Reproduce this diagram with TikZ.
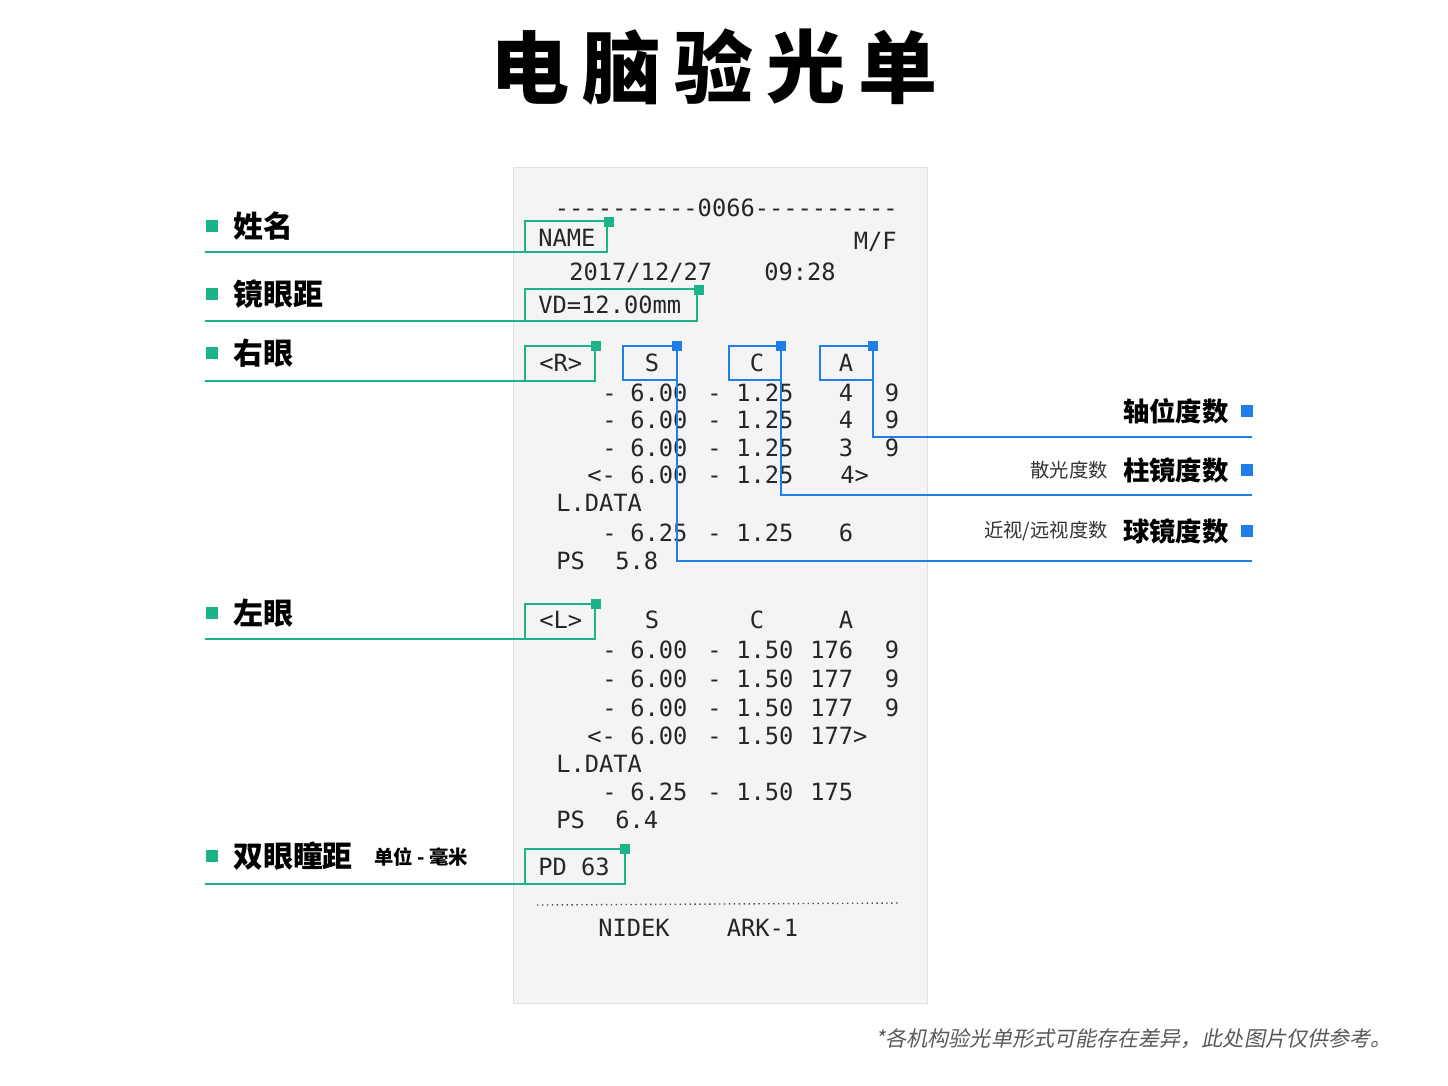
\documentclass[tikz,border=0pt]{standalone}
\usepackage{fontspec}
\newfontfamily\cjk{Noto Sans CJK SC}
\newfontfamily\cjkit{Noto Sans CJK SC}[FakeSlant=0.2]
\newfontfamily\receipt{DejaVu Sans Mono}
\definecolor{tagGreen}{HTML}{1DB38A}
\definecolor{tagBlue}{HTML}{1E7FE8}
\definecolor{paper}{HTML}{F4F4F5}
\tikzset{
  rtext/.style={anchor=base west, inner sep=0pt, font=\receipt\fontsize{13.5}{16}\selectfont, text=black!85},
  rmid/.style={rtext, anchor=base},
  gbox/.style={draw=tagGreen, line width=1.2pt},
  bbox/.style={draw=tagBlue, line width=1.2pt},
  lefttag/.style={anchor=west, inner sep=0pt, font=\cjk\bfseries\fontsize{17}{20}\selectfont},
  righttag/.style={anchor=east, inner sep=0pt, font=\cjk\bfseries\fontsize{15}{18}\selectfont},
  subtag/.style={anchor=east, inner sep=0pt, font=\cjk\fontsize{11}{13}\selectfont, text=black!80}
}
\newcommand{\gsq}[2]{\fill[tagGreen] (#1-5,#2-5) rectangle (#1+5,#2+5);}
\newcommand{\bsq}[2]{\fill[tagBlue] (#1-5,#2-5) rectangle (#1+5,#2+5);}
\begin{document}
\begin{tikzpicture}[x=0.02cm, y=-0.02cm]
\useasboundingbox[fill=white] (0,0) rectangle (1448,1086);

% title
\foreach \ch [count=\i from 0] in {电,脑,验,光,单}
  \node[font=\cjk\bfseries\fontsize{45}{50}\selectfont, inner sep=0pt] (title\i) at (530+\i*92,67) {\ch};

% receipt paper
\draw[fill=paper, draw=black!12] (513,167) rectangle (927,1003);

% header
\node[rtext, anchor=base east] (serial) at (898,216) {----------0066----------};
\node[rtext] (name) at (538,246) {NAME};
\node[rtext, anchor=base east] (sex) at (897,249) {M/F};
\node[rtext] (date) at (569,280) {2017/12/27};
\node[rtext] (time) at (764,280) {09:28};
\node[rtext] (vd) at (538,313) {VD=12.00mm};

% right eye
\node[rtext] (reye) at (539,371) {<R>};
\node[rmid] (rs) at (652,371) {S};
\node[rmid] (rc) at (757,371) {C};
\node[rmid] (ra) at (846,371) {A};
\foreach \y/\a in {401/4,428/4,456/3}{
  \node[rtext] at (602,\y) {-};
  \node[rtext] at (630,\y) {6.00};
  \node[rtext] at (707,\y) {-};
  \node[rtext] at (736,\y) {1.25};
  \node[rmid] at (846,\y) {\a};
  \node[rmid] at (892,\y) {9};
}
\node[rtext] at (587,483) {<-};
\node[rtext] at (630,483) {6.00};
\node[rtext] at (707,483) {-};
\node[rtext] at (736,483) {1.25};
\node[rtext] at (840,483) {4>};
\node[rtext] at (556,511) {L.DATA};
\node[rtext] at (602,541) {-};
\node[rtext] at (630,541) {6.25};
\node[rtext] at (707,541) {-};
\node[rtext] at (736,541) {1.25};
\node[rmid] at (846,541) {6};
\node[rtext] at (556,569) {PS};
\node[rtext] at (615,569) {5.8};

% left eye
\node[rtext] (leye) at (539,628) {<L>};
\node[rmid] at (652,628) {S};
\node[rmid] at (757,628) {C};
\node[rmid] at (846,628) {A};
\foreach \y/\a in {658/176,687/177,716/177}{
  \node[rtext] at (602,\y) {-};
  \node[rtext] at (630,\y) {6.00};
  \node[rtext] at (707,\y) {-};
  \node[rtext] at (736,\y) {1.50};
  \node[rtext] at (810,\y) {\a};
  \node[rmid] at (892,\y) {9};
}
\node[rtext] at (587,744) {<-};
\node[rtext] at (630,744) {6.00};
\node[rtext] at (707,744) {-};
\node[rtext] at (736,744) {1.50};
\node[rtext] at (810,744) {177>};
\node[rtext] at (556,772) {L.DATA};
\node[rtext] at (602,800) {-};
\node[rtext] at (630,800) {6.25};
\node[rtext] at (707,800) {-};
\node[rtext] at (736,800) {1.50};
\node[rtext] at (810,800) {175};
\node[rtext] at (556,828) {PS};
\node[rtext] at (615,828) {6.4};

\node[rtext] (pd) at (538,875) {PD 63};
\draw[black!70, line width=0.8pt, dotted] (537,905) -- (898,903);
\node[rtext] (model) at (598,936) {NIDEK\ \ \ \ ARK-1};

% green tags on the left
\foreach \y/\t in {226/姓名,294/镜眼距,353/右眼,613/左眼,856/双眼瞳距}{
  \fill[tagGreen] (206,\y-6) rectangle (218,\y+6);
  \node[lefttag] at (233,\y) {\t};
}
\node[anchor=west, inner sep=0pt, font=\cjk\bfseries\fontsize{11}{13}\selectfont] (unit) at (374,857) {单位 - 毫米};
\draw[gbox] (205,252) -| (525,221) -- (607,221) -- (607,252) -- cycle; \gsq{609}{222}
\draw[gbox] (205,321) -| (525,289) -- (697,289) -- (697,321) -- cycle; \gsq{699}{290}
\draw[gbox] (205,381) -| (525,346) -- (595,346) -- (595,381) -- cycle; \gsq{596}{346}
\draw[gbox] (205,639) -| (525,604) -- (595,604) -- (595,639) -- cycle; \gsq{596}{604}
\draw[gbox] (205,884) -| (525,849) -- (625,849) -- (625,884) -- cycle; \gsq{625}{849}

% blue tags on the right
\draw[bbox] (677,380) -- (623,380) -- (623,346) -- (677,346) -- (677,561) -- (1252,561); \bsq{677}{346}
\draw[bbox] (781,380) -- (729,380) -- (729,346) -- (781,346) -- (781,495) -- (1252,495); \bsq{781}{346}
\draw[bbox] (873,380) -- (820,380) -- (820,346) -- (873,346) -- (873,437) -- (1252,437); \bsq{873}{346}
\foreach \y/\t in {411/轴位度数,470/柱镜度数,531/球镜度数}{
  \fill[tagBlue] (1241,\y-6) rectangle (1253,\y+6);
  \node[righttag] at (1229,\y) {\t};
}
\node[subtag] at (1108,470) {散光度数};
\node[subtag] at (1108,531) {近视/远视度数};

% footnote
\node[anchor=east, inner sep=0pt, font=\cjkit\fontsize{12}{14}\selectfont, text=black!65] (note) at (1392,1039) {*各机构验光单形式可能存在差异，此处图片仅供参考。};
\end{tikzpicture}
\end{document}
